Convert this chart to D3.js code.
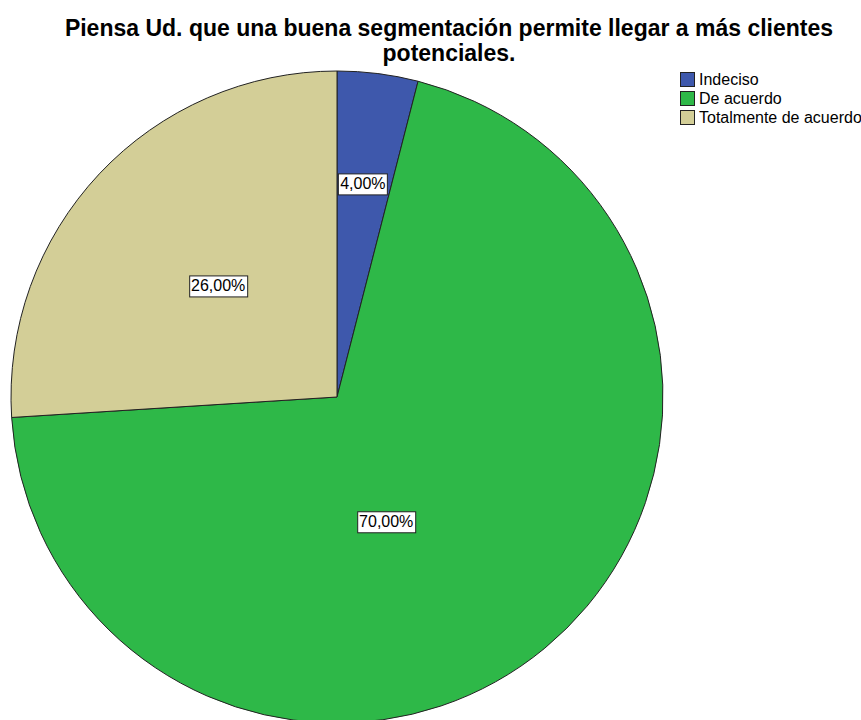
<!DOCTYPE html>
<html>
<head>
<meta charset="utf-8">
<script src="https://cdn.jsdelivr.net/npm/d3@7"></script>
<style>
  body { margin: 0; background: #fff; }
  svg { display: block; font-family: Arial, "Liberation Sans", sans-serif; }
</style>
</head>
<body>
<div id="chart"></div>
<script>
// chart data
var categories = ["Indeciso", "De acuerdo", "Totalmente de acuerdo"];
var values = [4, 70, 26];
var labels = ["4,00%", "70,00%", "26,00%"];
var colors = ["#3e58ac", "#2eb848", "#d3ce97"];
var titleLines = ["Piensa Ud. que una buena segmentación permite llegar a más clientes", "potenciales."];

// where each label sits: fraction of radius, angle shift (deg)
var labelRadius = [0.66, 0.41, 0.50];
var labelShift = [-0.3, 18, 0];

var w = 861;
var h = 720;
var cx = 337, cy = 397, r = 326;

var svg = d3.select("#chart")
  .append("svg")
  .attr("width", w)
  .attr("height", h);

// title
svg.append("text")
  .attr("x", 449)
  .attr("y", 36)
  .attr("text-anchor", "middle")
  .style("font-weight", "bold")
  .style("font-size", "23px")
  .selectAll("tspan")
  .data(titleLines)
  .enter()
  .append("tspan")
  .attr("x", 449)
  .attr("dy", function(d, i) { return i ? 25 : 0; })
  .text(function(d) { return d; });

var pie = d3.pie().sort(null).value(function(d) { return d; });
var arcs = pie(values);
var arc = d3.arc().innerRadius(0).outerRadius(r);

var g = svg.append("g").attr("transform", "translate(" + cx + "," + cy + ")");

g.selectAll("path")
  .data(arcs)
  .enter()
  .append("path")
  .attr("d", arc)
  .style("fill", function(d, i) { return colors[i]; })
  .style("stroke", "#222")
  .style("stroke-width", 1);

// labels with white boxes
var lab = g.selectAll("g.lab")
  .data(arcs)
  .enter()
  .append("g")
  .attr("class", "lab")
  .attr("transform", function(d, i) {
    var a = (d.startAngle + d.endAngle) / 2 + labelShift[i] * Math.PI / 180;
    var rr = r * labelRadius[i];
    return "translate(" + (rr * Math.sin(a)) + "," + (-rr * Math.cos(a)) + ")";
  });

lab.append("text")
  .attr("text-anchor", "middle")
  .attr("dy", "0.35em")
  .style("font-size", "16px")
  .text(function(d, i) { return labels[i]; });

lab.each(function() {
  var t = d3.select(this).select("text");
  var b = t.node().getBBox();
  d3.select(this).insert("rect", "text")
    .attr("x", Math.round(b.x - 2) + 0.5)
    .attr("y", Math.round(b.y - 2) + 0.5)
    .attr("width", Math.round(b.width + 4))
    .attr("height", Math.round(b.height + 4))
    .style("fill", "#fff")
    .style("stroke", "#222")
    .style("stroke-width", 1);
});

// legend
var legend = svg.append("g").attr("transform", "translate(680,72)");
var item = legend.selectAll("g")
  .data(categories)
  .enter()
  .append("g")
  .attr("transform", function(d, i) { return "translate(0," + (i * 19) + ")"; });

item.append("rect")
  .attr("x", 0.5)
  .attr("y", 0.5)
  .attr("width", 14)
  .attr("height", 14)
  .style("fill", function(d, i) { return colors[i]; })
  .style("stroke", "#222");

item.append("text")
  .attr("x", 19)
  .attr("y", 13)
  .style("font-size", "16px")
  .text(function(d) { return d; });
</script>
</body>
</html>
